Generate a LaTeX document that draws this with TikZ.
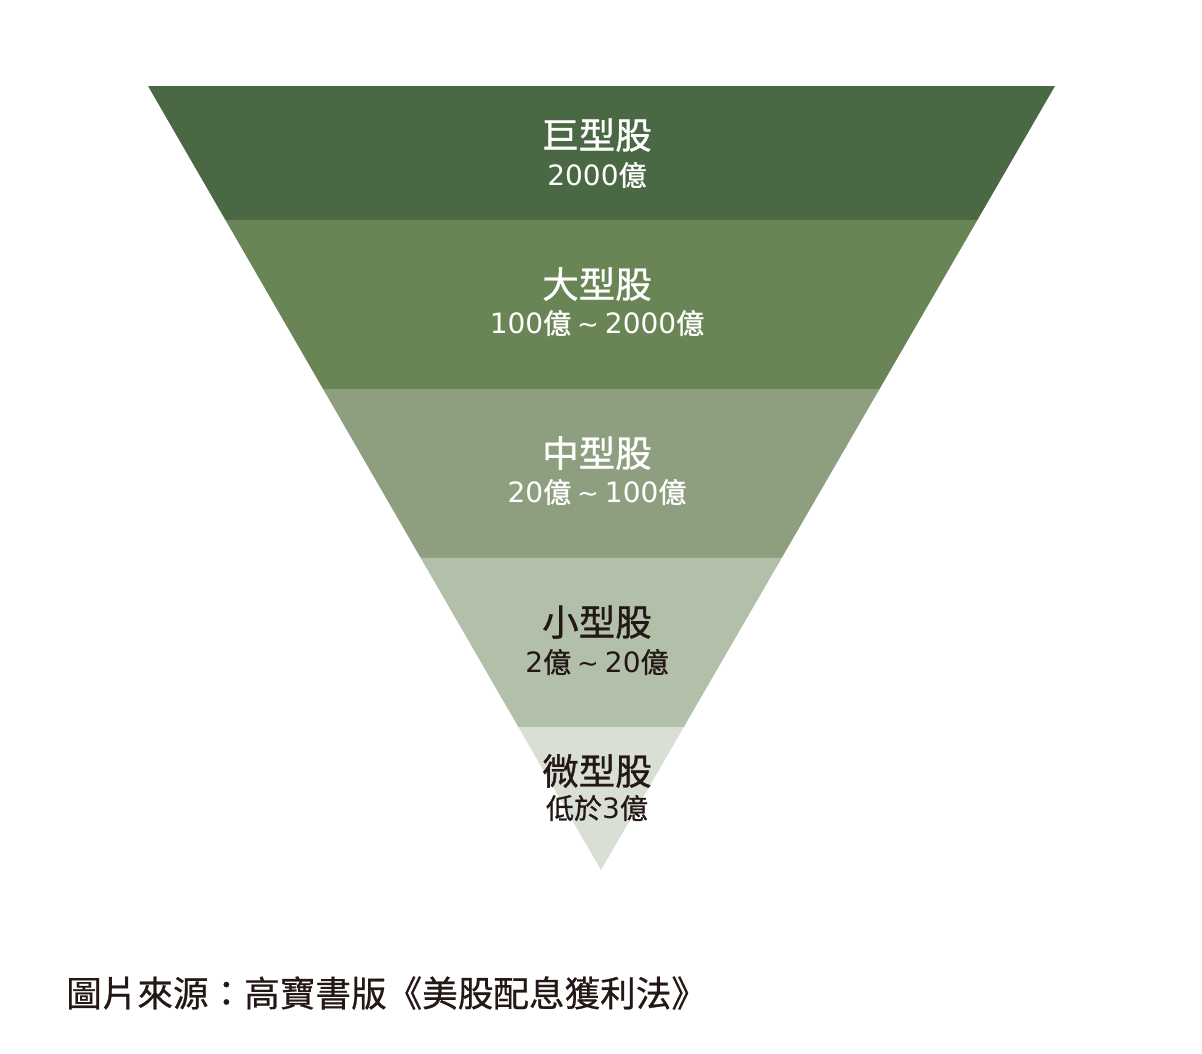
\documentclass[tikz,border=0pt]{standalone}
\usepackage{fontspec}
\setmainfont{Noto Sans CJK TC}
\newfontfamily\cjk[FakeBold=0.9]{Noto Sans CJK TC}
\newfontfamily\cjkcap[FakeBold=0.6]{Noto Sans CJK TC}
\newfontfamily\numf{DejaVu Sans}
\usetikzlibrary{calc}
\definecolor{bandA}{HTML}{4A6843}
\definecolor{bandB}{HTML}{6A8555}
\definecolor{bandC}{HTML}{8D9F7E}
\definecolor{bandD}{HTML}{B3C0A9}
\definecolor{bandE}{HTML}{D9DFD4}
\definecolor{darktext}{HTML}{231815}
\newcommand{\yi}{{\cjk 億}}
\newcommand{\tld}{\hspace{6pt}{\fontsize{26}{28}\selectfont\textasciitilde}\hspace{6pt}}
\tikzset{
  title/.style={font=\cjk\fontsize{36.5}{40}\selectfont, inner sep=0pt, anchor=center},
  sub/.style={font=\numf\fontsize{28}{31}\selectfont, inner sep=0pt, anchor=center},
  light/.style={text=white},
  dark/.style={text=darktext},
}
\begin{document}
\begin{tikzpicture}[x=1pt,y=-1pt]
\useasboundingbox[fill=white] (0,0) rectangle (1202,1053);
\coordinate (A) at (148,86);
\coordinate (B) at (1055,86);
\coordinate (C) at (601,870);
\coordinate (L1) at ($(A)!0.1709!(C)$);
\coordinate (R1) at ($(B)!0.1709!(C)$);
\coordinate (L2) at ($(A)!0.3865!(C)$);
\coordinate (R2) at ($(B)!0.3865!(C)$);
\coordinate (L3) at ($(A)!0.6020!(C)$);
\coordinate (R3) at ($(B)!0.6020!(C)$);
\coordinate (L4) at ($(A)!0.8176!(C)$);
\coordinate (R4) at ($(B)!0.8176!(C)$);
\fill[bandA] (A) -- (B) -- (R1) -- (L1) -- cycle;
\fill[bandB] (L1) -- (R1) -- (R2) -- (L2) -- cycle;
\fill[bandC] (L2) -- (R2) -- (R3) -- (L3) -- cycle;
\fill[bandD] (L3) -- (R3) -- (R4) -- (L4) -- cycle;
\fill[bandE] (L4) -- (R4) -- (C) -- cycle;

\node[title,light] (t1) at (597,135) {巨型股};
\node[sub,light] (s1) at (597,175) {2000\yi};
\node[title,light] (t2) at (597,284) {大型股};
\node[sub,light] (s2) at (597,323) {100\yi\tld 2000\yi};
\node[title,light] (t3) at (597,453) {中型股};
\node[sub,light] (s3) at (597,492) {20\yi\tld 100\yi};
\node[title,dark] (t4) at (597,622) {小型股};
\node[sub,dark] (s4) at (597,662) {2\yi\tld 20\yi};
\node[title,dark] (t5) at (597,771) {微型股};
\node[sub,dark] (s5) at (597,808) {{\cjk 低於}3\yi};

\node[font=\cjkcap\fontsize{35.6}{38}\selectfont, inner sep=0pt, anchor=west, text=darktext] (cap) at (66,993) {圖片來源：高寶書版《美股配息獲利法》};
\end{tikzpicture}
\end{document}
